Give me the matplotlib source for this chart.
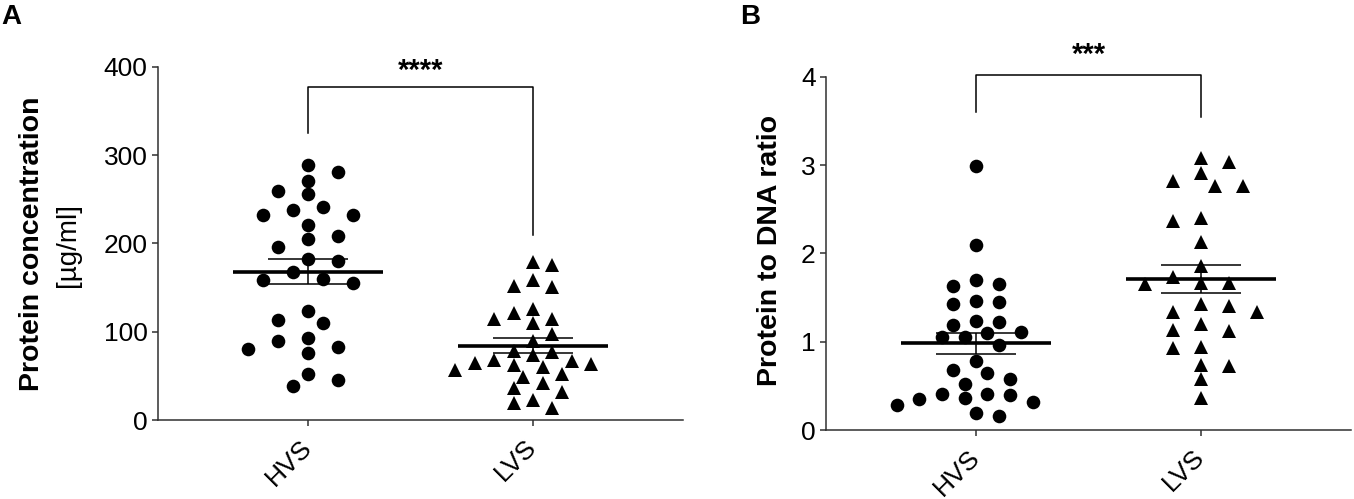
import numpy as np
import matplotlib
matplotlib.use("Agg")
import matplotlib.pyplot as plt

plt.rcParams['font.family'] = ['Liberation Sans', 'DejaVu Sans']

# values
groups = ["HVS", "LVS"]

conc_hvs = [289, 281, 270.5, 259, 255.7, 241.7, 237.8, 231.8, 231.8, 220.5,
            208.3, 204.5, 196.2, 181.8, 180, 167.4, 159.8, 158.3, 155.3, 123.9,
            113.6, 109.8, 92.8, 89, 82.6, 80.3, 75.7, 51.9, 45.5, 39]
conc_lvs = [175, 178.8, 159, 152, 150.8, 125.8, 121.2, 114.4, 114.8, 109.8,
            97.7, 89, 73.9, 76.5, 77.7, 63.6, 68.2, 64.4, 66.3, 62.5,
            49.2, 56.8, 51.9, 59.5, 42.4, 31.4, 35.9, 22.7, 18.9, 13.2]

ratio_hvs = [2.985, 2.10, 1.656, 1.693, 1.629, 1.458, 1.428, 1.447, 1.231, 1.227,
             1.193, 1.098, 1.114, 1.049, 1.049, 0.966, 0.777, 0.644, 0.682, 0.576,
             0.519, 0.405, 0.348, 0.398, 0.405, 0.36, 0.284, 0.322, 0.189, 0.159]
ratio_lvs = [3.076, 3.038, 2.905, 2.822, 2.765, 2.765, 2.367, 2.405, 2.129, 1.852,
             1.731, 1.663, 1.648, 1.667, 1.428, 1.401, 1.333, 1.333, 1.201, 1.133,
             1.125, 0.936, 0.928, 0.727, 0.739, 0.576, 0.360]

W, H = 1354, 499
PX_PER_X = 225.0   # pixels between the two categories


def swarm_offsets(values, px_per_unit, col_px, row_px=13.0):
    """ Simple beeswarm: spread points sideways until they stop overlapping """
    y = np.asarray(values, float) * px_per_unit
    step = col_px / 2
    px_list, py_list = [], []
    out = np.zeros(len(y))
    for i in np.argsort(-y, kind="stable"):
        def free(c):
            return all(((c - px) / col_px) ** 2 + ((y[i] - py) / row_px) ** 2 >= 0.999
                       for px, py in zip(px_list, py_list))
        chosen = 0.0
        for k in range(0, 20):
            opts = [c for c in ([0.0] if k == 0 else [k * step, -k * step]) if free(c)]
            if opts:
                if len(opts) == 2:
                    right = sum(1 for p in px_list if p > 0)
                    left = sum(1 for p in px_list if p < 0)
                    chosen = opts[1] if right > left else opts[0]
                else:
                    chosen = opts[0]
                break
        px_list.append(chosen)
        py_list.append(y[i])
        out[i] = chosen / PX_PER_X
    return out


def draw_panel(ax, data, ylim, yticks, px_per_unit, col_widths):
    ax.set_xlim(-0.667, 1.667)
    ax.set_ylim(*ylim)
    for i, (vals, marker, cw) in enumerate(zip(data, ["o", "^"], col_widths)):
        vals = np.asarray(vals, float)
        off = swarm_offsets(vals, px_per_unit, cw)
        ax.plot(i + off, vals, ls="none", marker=marker, ms=9.8, color="black",
                mew=0, clip_on=False, zorder=3)
        mean = vals.mean()
        sem = vals.std(ddof=1) / np.sqrt(len(vals))
        ax.hlines(mean, i - 0.333, i + 0.333, color="black", lw=2.6, zorder=4)
        ax.hlines([mean - sem, mean + sem], i - 0.178, i + 0.178, color="black", lw=1.1, zorder=4)
        ax.vlines(i, mean - sem, mean + sem, color="black", lw=1.1, zorder=4)

    for side in ["top", "right"]:
        ax.spines[side].set_visible(False)
    for side in ["left", "bottom"]:
        ax.spines[side].set_linewidth(1.1)
        ax.spines[side].set_color("#303030")
    ax.set_yticks(yticks)
    ax.set_xticks([0, 1])
    ax.set_xticklabels(groups, rotation=45, ha="right", va="center",
                       rotation_mode="anchor", fontsize=19)
    ax.tick_params(axis="y", length=4.5, width=1.1, labelsize=19, pad=3, color="#303030")
    ax.tick_params(axis="x", length=4, width=1.1, pad=13, color="#303030")


fig = plt.figure(figsize=(W / 100, H / 100), dpi=100)

axA = fig.add_axes([158 / W, (H - 420) / H, 525 / W, 353.3 / H])
draw_panel(axA, [conc_hvs, conc_lvs], (0, 400), [0, 100, 200, 300, 400],
           353.3 / 400, [30, 19.4])
axA.plot([0, 0, 1, 1], [325, 377, 377, 210], color="black", lw=1.1, clip_on=False)
axA.text(0.5, 395, "****", ha="center", va="center", fontsize=21, fontweight="bold")

axB = fig.add_axes([826 / W, (H - 430) / H, 525 / W, 353.3 / H])
draw_panel(axB, [ratio_hvs, ratio_lvs], (0, 4), [0, 1, 2, 3, 4],
           353.3 / 4, [22.7, 28])
axB.plot([0, 0, 1, 1], [3.605, 4.02, 4.02, 3.548], color="black", lw=1.1, clip_on=False)
axB.text(0.5, 4.25, "***", ha="center", va="center", fontsize=21, fontweight="bold")

# axis titles
fig.text(32 / W, 1 - 244 / H, "Protein concentration", rotation=90, fontsize=20.5,
         fontweight="bold", ha="center", va="center")
fig.text(68 / W, 1 - 245 / H, "[µg/ml]", rotation=90, fontsize=20, ha="center", va="center")
fig.text(770 / W, 1 - 250 / H, "Protein to DNA ratio", rotation=90, fontsize=20.5,
         fontweight="bold", ha="center", va="center")

# panel letters
fig.text(1 / W, 1 - 17 / H, "A", fontsize=20, fontweight="bold", ha="left", va="center")
fig.text(740 / W, 1 - 17 / H, "B", fontsize=20, fontweight="bold", ha="left", va="center")

fig.savefig("out.png", dpi=100)
